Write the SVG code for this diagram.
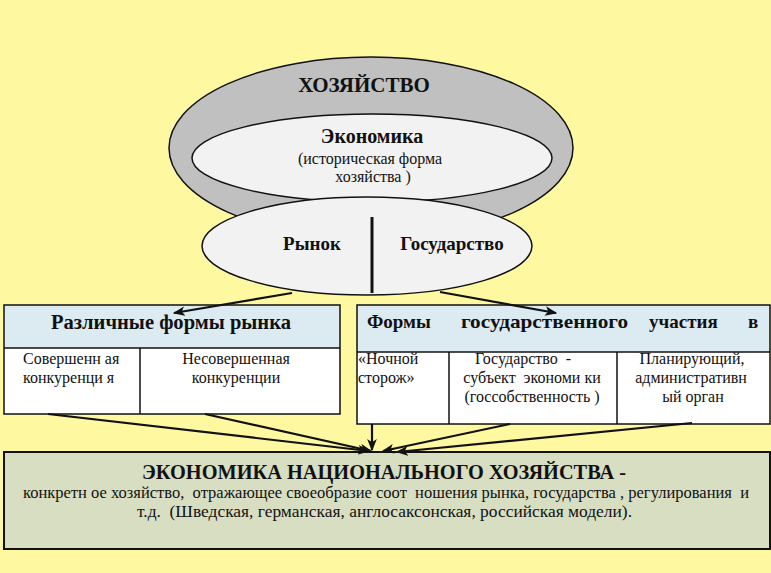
<svg xmlns="http://www.w3.org/2000/svg" width="771" height="573" viewBox="0 0 771 573">
<defs>
<style>
.t{font-family:"Liberation Serif","Times New Roman",serif;fill:#111;}
.b{font-weight:bold;}
.c{text-anchor:middle;}
.ln{stroke:#111;fill:none;}
.conn{stroke:#111;fill:none;stroke-width:2.2;marker-end:url(#ah);}
</style>
<marker id="ah" viewBox="0 0 10 8" refX="9" refY="4" markerWidth="5.5" markerHeight="4.4" orient="auto" markerUnits="strokeWidth">
<path d="M0,0 L10,4 L0,8 L2.5,4 Z" fill="#111"/>
</marker>
</defs>
<rect x="0" y="0" width="771" height="573" fill="#FEF9A0"/>

<g id="hozyaistvo">
<ellipse cx="371" cy="148" rx="202" ry="91" fill="#C0C0C0" stroke="#111" stroke-width="1.5"/>
<text class="t b c" x="364" y="92" font-size="21">ХОЗЯЙСТВО</text>
</g>

<g id="ekonomika">
<ellipse cx="372" cy="158" rx="180" ry="44" fill="#F2F2F2" stroke="#111" stroke-width="1.5"/>
<text class="t b c" x="372" y="143" font-size="20">Экономика</text>
<text class="t c" x="370" y="164" font-size="16">(историческая форма</text>
<text class="t c" x="373" y="182" font-size="16" xml:space="preserve">хозяйства )</text>
</g>

<g id="rynok-gosudarstvo">
<ellipse cx="367" cy="246" rx="165" ry="49" fill="#F2F2F2" stroke="#111" stroke-width="1.5"/>
<line x1="372" y1="217" x2="372" y2="293" stroke="#111" stroke-width="3"/>
<text class="t b c" x="312" y="250" font-size="19">Рынок</text>
<text class="t b c" x="452" y="250" font-size="19">Государство</text>
</g>

<g id="formy-rynka">
<rect x="4" y="305" width="336" height="109" fill="#FFFFFF"/>
<rect x="4" y="305" width="336" height="43" fill="#DCEBF2"/>
<rect x="4" y="305" width="336" height="109" class="ln" stroke-width="1.5"/>
<line x1="4" y1="348" x2="340" y2="348" class="ln" stroke-width="1.5"/>
<line x1="140" y1="348" x2="140" y2="414" class="ln" stroke-width="1.5"/>
<text class="t b c" x="171" y="329" font-size="20" textLength="240" lengthAdjust="spacingAndGlyphs">Различные формы рынка</text>
<text class="t" x="23" y="364" font-size="16" xml:space="preserve">Совершенн ая</text>
<text class="t" x="23" y="383" font-size="16" xml:space="preserve">конкуренци я</text>
<text class="t c" x="236" y="364" font-size="16">Несовершенная</text>
<text class="t c" x="236" y="383" font-size="16">конкуренции</text>
</g>

<g id="formy-gos">
<rect x="357" y="305" width="413" height="119" fill="#FFFFFF"/>
<rect x="357" y="305" width="413" height="47" fill="#DCEBF2"/>
<rect x="357" y="305" width="413" height="119" class="ln" stroke-width="1.5"/>
<line x1="357" y1="352" x2="770" y2="352" class="ln" stroke-width="1.5"/>
<line x1="449" y1="352" x2="449" y2="424" class="ln" stroke-width="1.5"/>
<line x1="617" y1="352" x2="617" y2="424" class="ln" stroke-width="1.5"/>
<text class="t b" x="367" y="328" font-size="19">Формы</text>
<text class="t b" x="461" y="328" font-size="19" textLength="167" lengthAdjust="spacingAndGlyphs">государственного</text>
<text class="t b" x="649" y="328" font-size="19">участия</text>
<text class="t b" x="748" y="328" font-size="19">в</text>
<text class="t" x="358" y="364" font-size="16">«Ночной</text>
<text class="t" x="358" y="383" font-size="16">сторож»</text>
<text class="t c" x="523" y="364" font-size="16" xml:space="preserve">Государство  -</text>
<text class="t c" x="532" y="383" font-size="16" xml:space="preserve">субъект  экономи ки</text>
<text class="t c" x="532" y="402" font-size="16" xml:space="preserve">(госсобственность )</text>
<text class="t c" x="692" y="364" font-size="16">Планирующий,</text>
<text class="t c" x="691" y="383" font-size="16">административн</text>
<text class="t c" x="693" y="402" font-size="16">ый орган</text>
</g>

<g id="ekonomika-nh">
<rect x="4" y="452" width="766" height="97" fill="#D8DEC2" stroke="#111" stroke-width="2"/>
<text class="t b" x="142" y="479" font-size="21" textLength="484" lengthAdjust="spacingAndGlyphs">ЭКОНОМИКА НАЦИОНАЛЬНОГО ХОЗЯЙСТВА -</text>
<text class="t" x="23" y="498" font-size="16" textLength="726" lengthAdjust="spacingAndGlyphs" xml:space="preserve">конкретн ое хозяйство,  отражающее своеобразие соот  ношения рынка, государства , регулирования  и</text>
<text class="t" x="137" y="517" font-size="16" textLength="495" lengthAdjust="spacingAndGlyphs" xml:space="preserve">т.д.  (Шведская, германская, англосаксонская, российская модели).</text>
</g>

<g id="connectors">
<path class="conn" d="M292,293 L174,313"/>
<path class="conn" d="M440,292 L556,313"/>
<path class="conn" d="M48,414 L369,451" stroke-width="2.8"/>
<path class="conn" d="M205,414 L371,451" stroke-width="2.8"/>
<path class="conn" d="M372,424 L372,450"/>
<path class="conn" d="M510,424 L383,451"/>
<path class="conn" d="M692,423 L397,452"/>
</g>
</svg>
